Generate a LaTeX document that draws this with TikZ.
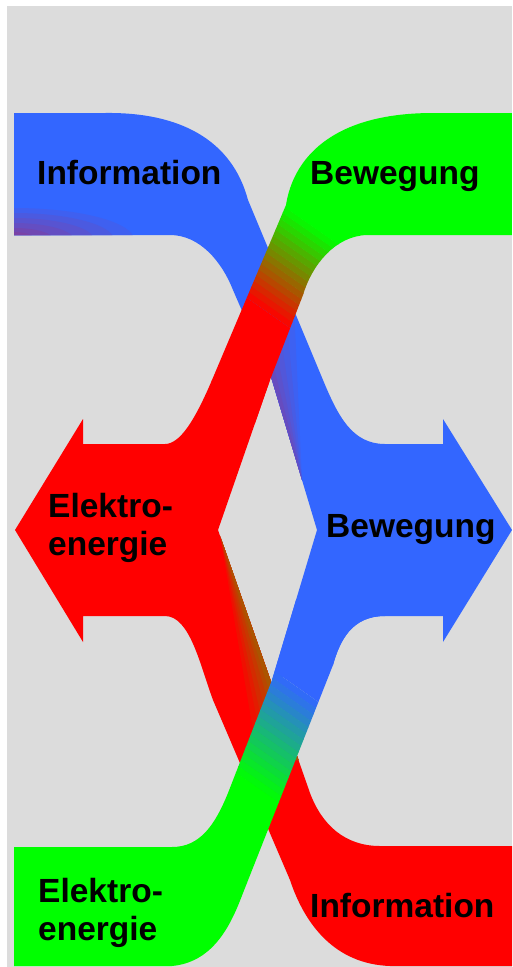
\documentclass[tikz,border=0pt]{standalone}
\usepackage{fontspec}
\setmainfont{Liberation Sans}
\definecolor{bgray}{RGB}{220,220,220}
\definecolor{fblue}{RGB}{51,102,255}
\definecolor{fred}{RGB}{255,0,0}
\definecolor{fgreen}{RGB}{0,255,0}

\tikzset{
  lbl/.style={anchor=base west, inner sep=0pt, text=black,
    font=\bfseries\fontsize{33.5}{38}\selectfont},
}

% outlines of the four flows (1 unit = 1 pt, y grows downwards)
\def\infoflow{(14,113) -- (105,113) .. controls (180,112) and (232,140) .. (248,200)
  -- (323,380) .. controls (338,416) and (352,444) .. (385,444) -- (443,444) -- (443,419)
  -- (512,530) -- (443,642) -- (443,616) -- (385,616) .. controls (352,616) and (340,640) .. (333,665)
  -- (272,680) -- (317,530) -- (272,380) -- (233,290) .. controls (222,262) and (200,235) .. (170,235)
  -- (14,235) -- cycle}
\def\motionflow{(212,380) -- (286,205) .. controls (293,160) and (330,113) .. (433,113)
  -- (512,113) -- (512,235) -- (367,235) .. controls (335,236) and (312,265) .. (303,295)
  -- (270,380) -- (254.7,424) -- (200,424) -- cycle}
\def\elecflow{(15,530) -- (83,419) -- (83,444) -- (165,444) .. controls (180,444) and (195,420) .. (212,380)
  -- (270,380) -- (218,530) -- (310,793) .. controls (322,825) and (345,846) .. (380,846)
  -- (512,846) -- (512,966) -- (390,966) .. controls (335,964) and (305,925) .. (290,880)
  -- (213,700) .. controls (200,665) and (190,616) .. (165,616) -- (83,616) -- (83,642) -- cycle}
\def\powerflow{(385,616) .. controls (352,616) and (340,640) .. (333,665) -- (243,893)
  .. controls (232,922) and (215,962) .. (172,966) -- (14,966) -- (14,847) -- (172,847)
  .. controls (200,847) and (215,825) .. (228,793) -- (272,680) -- (296,600) -- (385,600) -- cycle}

\begin{document}
\begin{tikzpicture}[x=1pt,y=-1pt]
\useasboundingbox (0,0) rectangle (512,967);
\fill[white] (0,0) rectangle (512,967);
\fill[bgray] (7,6) rectangle (512,967);

% information flow (blue) ending in the right arrow
\fill[fblue] \infoflow;
\begin{scope}
  \clip \infoflow;
  % tinted corner of the incoming information band
  \foreach \k/\rx/\ry in {94/120/32, 88/100/27, 82/80/22, 76/60/17, 70/40/12, 65/22/8}
    \fill[fblue!\k!fred] (14,240) ellipse [x radius=\rx pt, y radius=\ry pt];
  % tinted strip along the inner edge, starting under the red band
  \foreach \k/\tx/\ty in {95/294.4/314.6, 90/287.7/331.9, 85/282.2/345.9, 80/277.7/357.5, 75/273.9/367.3}
    \fill[fblue!\k!fred] (258,392) -- (\tx,\ty) -- (302,480) -- cycle;
\end{scope}

% electric energy turning into motion (red to green)
\begin{scope}
  \clip \motionflow;
  \begin{scope}[shift={(250,300)}, rotate=-35]
    \fill[fred] (-300,0) rectangle (300,300);
    \foreach \i in {0,...,15} {
      \pgfmathtruncatemacro\pct{100*(\i+0.5)/16}
      \fill[fgreen!\pct!fred] (-300,{-6*\i}) rectangle (300,{-6*\i-6.4});
    }
    \fill[fgreen] (-300,-96) rectangle (300,-400);
  \end{scope}
\end{scope}

% electric energy (red) with the left arrow and the lower information branch
\fill[fred] \elecflow;
\begin{scope}
  \clip \elecflow;
  \foreach \k/\w in {94/40, 89/33, 83/27, 78/20, 72/13, 67/7}
    \fill[fred!\k!fgreen] (220,535) -- (340,760) -- ({298-\w},760) -- cycle;
\end{scope}

% motion turning into electric energy (blue to green)
\begin{scope}
  \clip \powerflow;
  \begin{scope}[shift={(277,673)}, rotate=-35]
    \fill[fblue] (-300,0) rectangle (300,-300);
    \foreach \i in {0,...,15} {
      \pgfmathtruncatemacro\pct{100*(\i+0.5)/16}
      \fill[fgreen!\pct!fblue] (-300,{6.5625*\i}) rectangle (300,{6.5625*\i+7});
    }
    \fill[fgreen] (-300,105) rectangle (300,400);
  \end{scope}
\end{scope}

% labels
\node[lbl] (infoTop) at (37,184) {Information};
\node[lbl] (motionTop) at (310,184) {Bewegung};
\node[lbl] (elecMidA) at (48,517) {Elektro-};
\node[lbl] (elecMidB) at (48,555) {energie};
\node[lbl] (motionMid) at (326,537) {Bewegung};
\node[lbl] (elecBotA) at (38,902) {Elektro-};
\node[lbl] (elecBotB) at (38,940) {energie};
\node[lbl] (infoBot) at (310,917) {Information};
\end{tikzpicture}
\end{document}
